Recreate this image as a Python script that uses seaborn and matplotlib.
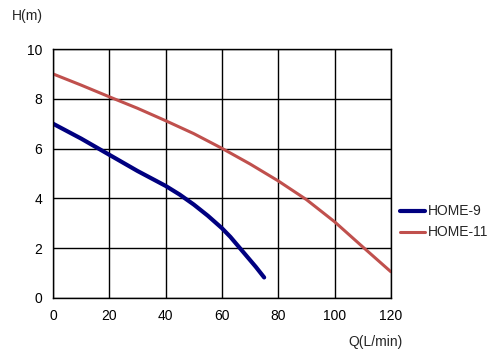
import pandas as pd
import seaborn as sns
import matplotlib.pyplot as plt

# pump curves
q_home9 = [0, 10, 20, 30, 40, 45, 50, 55, 60, 63, 66, 69, 72, 75]
h_home9 = [7.0, 6.4, 5.75, 5.1, 4.5, 4.15, 3.75, 3.3, 2.8, 2.45, 2.05, 1.65, 1.25, 0.82]
q_home11 = [0, 10, 20, 30, 40, 50, 60, 70, 80, 90, 100, 110, 120]
h_home11 = [9.0, 8.55, 8.08, 7.62, 7.12, 6.6, 6.01, 5.38, 4.7, 3.95, 3.06, 2.05, 1.05]
x_ticks = [0, 20, 40, 60, 80, 100, 120]
y_ticks = [0, 2, 4, 6, 8, 10]

df = pd.concat([
    pd.DataFrame({"Q": q_home9, "H": h_home9, "model": "HOME-9"}),
    pd.DataFrame({"Q": q_home11, "H": h_home11, "model": "HOME-11"}),
])

sns.set_style("white")
plt.rcParams['font.family'] = ['Liberation Sans', 'DejaVu Sans']

fig = plt.figure(figsize=(4.91, 3.58), dpi=100)
ax = fig.add_axes([0.108, 0.168, 0.688, 0.695])

sns.lineplot(data=df, x="Q", y="H", hue="model", size="model",
             sizes={"HOME-9": 3.0, "HOME-11": 2.2},
             palette={"HOME-9": "#000080", "HOME-11": "#C0504D"},
             ax=ax, sort=False)
ax.lines[0].set_solid_capstyle("round")

ax.set_xlim(0, 120)
ax.set_ylim(0, 10)
ax.set_xticks(x_ticks)
ax.set_yticks(y_ticks)
ax.grid(True, color="black", linewidth=1)
ax.set_axisbelow(True)
for s in ax.spines.values():
    s.set_color("black")
    s.set_linewidth(1)
ax.tick_params(length=0, labelsize=10, colors="black", pad=8)
ax.set_xlabel("")
ax.set_ylabel("")
fig.text(0.025, 0.955, "H(m)", fontsize=10, ha="left", va="center")
fig.text(0.82, 0.045, "Q(L/min)", fontsize=10, ha="right", va="center")

ax.legend(loc="center left", bbox_to_anchor=(1.0, 0.305), frameon=False,
          fontsize=10, handlelength=1.8, handletextpad=0.2, labelspacing=0.5,
          borderaxespad=0.25, borderpad=0.4)

fig.savefig("out.png", dpi=100)
